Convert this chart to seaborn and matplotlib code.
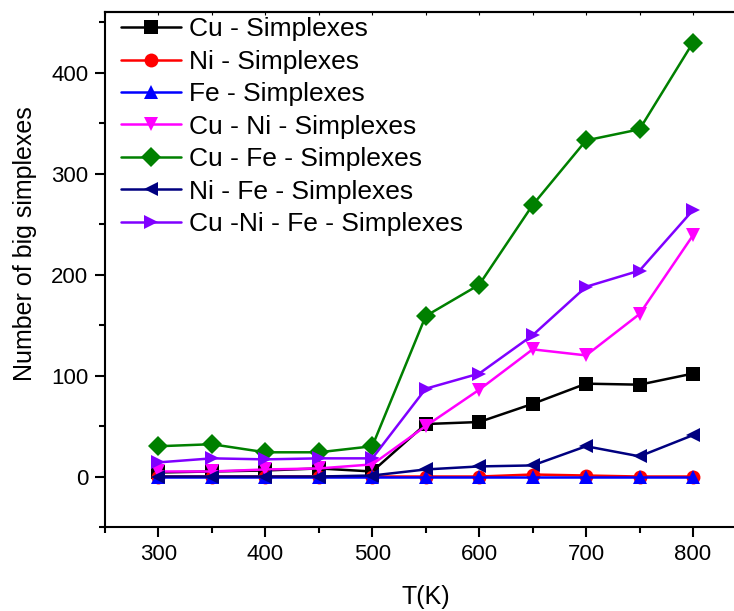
import numpy as np
import pandas as pd
import matplotlib
matplotlib.use('Agg')
import matplotlib.pyplot as plt
from matplotlib.ticker import MultipleLocator
import seaborn as sns

temps = [300, 350, 400, 450, 500, 550, 600, 650, 700, 750, 800]

cu = [4, 5, 6, 8, 5, 52, 54, 72, 92, 91, 102]
ni = [0, 0, 0, 0, 0, 0, 0, 2, 1, 0, 0]
fe = [0, 0, 0, 0, 0, 0, 0, 0, 0, 0, 0]
cu_ni = [5, 5, 7, 8, 12, 50, 86, 126, 120, 161, 239]
cu_fe = [30, 32, 24, 24, 30, 159, 190, 269, 333, 344, 430]
ni_fe = [0, 0, 0, 0, 1, 7, 10, 11, 30, 20, 41]
cu_ni_fe = [14, 18, 17, 18, 18, 87, 102, 140, 188, 204, 264]

names = ['Cu - Simplexes', 'Ni - Simplexes', 'Fe - Simplexes',
         'Cu - Ni - Simplexes', 'Cu - Fe - Simplexes',
         'Ni - Fe - Simplexes', 'Cu -Ni - Fe - Simplexes']
series = [cu, ni, fe, cu_ni, cu_fe, ni_fe, cu_ni_fe]
colors = ['#000000', '#FF0000', '#0000FF', '#FF00FF', '#008000', '#000080', '#8000FF']
markers = ['s', 'o', '^', 'v', 'D', '<', '>']

rows = []
for name, vals in zip(names, series):
    for t, v in zip(temps, vals):
        rows.append({'T': t, 'count': v, 'series': name})
df = pd.DataFrame(rows)

sns.set_style('ticks', {'axes.edgecolor': 'black', 'text.color': 'black',
                        'axes.labelcolor': 'black', 'xtick.color': 'black',
                        'ytick.color': 'black'})
plt.rcParams['font.family'] = ['Liberation Sans', 'DejaVu Sans']

fig = plt.figure(figsize=(7.34, 6.11), dpi=100)
ax = fig.add_axes([0.143, 0.1375, 0.874, 0.8425])

sns.lineplot(data=df, x='T', y='count', hue='series', style='series',
             hue_order=names, style_order=names,
             palette=dict(zip(names, colors)),
             markers=dict(zip(names, markers)), dashes=False,
             linewidth=1.8, markersize=10, markeredgewidth=0, ax=ax)

ax.set_xlim(250, 850)
ax.set_ylim(-50, 460)
ax.xaxis.set_major_locator(MultipleLocator(100))
ax.xaxis.set_minor_locator(MultipleLocator(50))
ax.yaxis.set_major_locator(MultipleLocator(100))
ax.yaxis.set_minor_locator(MultipleLocator(50))
ax.tick_params(which='major', direction='out', length=7, width=1.5,
               labelsize=16, pad=5, colors='black')
ax.tick_params(which='minor', direction='out', length=4.5, width=1.5,
               colors='black')
for s in ax.spines.values():
    s.set_linewidth(1.5)
    s.set_color('black')

# small inward ticks along the top edge
top = ax.secondary_xaxis('top')
top.xaxis.set_major_locator(MultipleLocator(50))
top.tick_params(direction='in', length=2, width=0.8, labeltop=False)
top.spines['top'].set_linewidth(1.5)
top.spines['top'].set_color('black')

ax.set_xlabel('T(K)', fontsize=18, labelpad=15, color='black')
ax.set_ylabel('Number of big simplexes', fontsize=18, color='black')
ax.yaxis.set_label_coords(-0.106, 0.551)

handles, labels = ax.get_legend_handles_labels()
for h in handles:
    h.set_markersize(10)
    h.set_markeredgewidth(0)
    h.set_linewidth(1.8)
ax.legend(handles, labels, loc='upper left', frameon=False, fontsize=19,
          handlelength=2.27, handletextpad=0.3, labelspacing=0.32,
          borderpad=0, borderaxespad=0, bbox_to_anchor=(0.025, 0.99))

fig.savefig('out.png', dpi=100)
